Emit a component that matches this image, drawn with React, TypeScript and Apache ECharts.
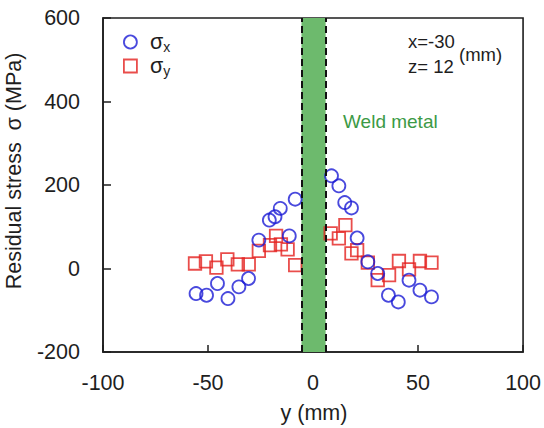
import React, { useEffect, useRef } from "react";
import * as echarts from "echarts";

// σx: positions (mm) and values (MPa)
const sigmaXPos = [-55.7, -50.7, -45.5, -40.5, -35.3, -30.7, -25.8, -20.8, -18.1, -15.6, -11.3, -8.5, 8.8, 12.3, 15.1, 18.3, 21.0, 26.1, 30.8, 35.9, 40.6, 45.7, 50.9, 56.4];
const sigmaX = [-60, -64, -36, -72, -44, -24, 68, 116, 124, 144, 78, 166, 222, 198, 158, 145, 73, 16, -12, -64, -80, -28, -52, -68];

// σy: positions (mm) and values (MPa)
const sigmaYPos = [-56.2, -51.0, -46.0, -40.8, -35.8, -30.6, -25.8, -20.5, -17.6, -15.3, -12.1, -8.5, 8.4, 12.3, 15.4, 18.3, 21.0, 26.1, 30.8, 36.2, 40.9, 45.7, 50.9, 56.4];
const sigmaY = [12, 17, 2, 22, 10, 10, 42, 56, 78, 58, 46, 8, 84, 72, 104, 36, 44, 14, -28, -16, 18, -2, 18, 14];

// weld metal zone (mm)
const weldZone = [-5.5, 6];

const xAxisRange = { min: -100, max: 100, interval: 50 };
const yAxisRange = { min: -200, max: 600, interval: 200 };

const seriesNames = ["σx", "σy"];

export default function App() {
  const ref = useRef<HTMLDivElement>(null);

  useEffect(() => {
    const chart = echarts.init(ref.current!, null, { renderer: "svg" });
    const font = "Arial, 'Liberation Sans', sans-serif";
    const blue = "#1c1cd4";
    const red = "#e3201e";
    const ink = "#1e1e1e";

    chart.setOption({
      animation: false,
      backgroundColor: "#ffffff",
      textStyle: { fontFamily: font },
      grid: {
        left: 103,
        right: 19,
        top: 18,
        bottom: 76,
        show: true,
        borderColor: ink,
        borderWidth: 1.6,
        backgroundColor: "transparent",
      },
      xAxis: {
        type: "value",
        min: xAxisRange.min,
        max: xAxisRange.max,
        interval: xAxisRange.interval,
        axisLine: { show: true, onZero: false, lineStyle: { color: ink, width: 1.6 } },
        axisTick: { show: true, inside: true, length: 7, lineStyle: { color: ink, width: 1.5 } },
        axisLabel: { fontSize: 21.5, color: ink, margin: 20, fontFamily: font },
        splitLine: { show: false },
      },
      yAxis: {
        type: "value",
        min: yAxisRange.min,
        max: yAxisRange.max,
        interval: yAxisRange.interval,
        axisLine: { show: true, onZero: false, lineStyle: { color: ink, width: 1.6 } },
        axisTick: { show: true, inside: true, length: 8, lineStyle: { color: ink, width: 1.5 } },
        axisLabel: { fontSize: 21.5, color: ink, margin: 23, fontFamily: font },
        splitLine: { show: false },
      },
      legend: {
        orient: "vertical",
        left: 118,
        top: 26,
        itemWidth: 13,
        itemHeight: 13,
        itemGap: 1,
        data: [
          { name: seriesNames[0], icon: "circle", itemStyle: { color: "transparent", borderColor: blue, borderWidth: 1.8 } },
          { name: seriesNames[1], icon: "rect", itemStyle: { color: "transparent", borderColor: red, borderWidth: 1.8 } },
        ],
        formatter: (n: string) => (n === seriesNames[0] ? "{s|σ}{b|x}" : "{s|σ}{b|y}"),
        textStyle: {
          rich: {
            s: { fontSize: 21.5, fontFamily: font, color: ink, padding: [0, 0, 0, 8], lineHeight: 24 },
            b: { fontSize: 14, fontFamily: font, color: ink, verticalAlign: "bottom", lineHeight: 16 },
          },
        },
      },
      graphic: [
        {
          type: "text",
          x: 14,
          y: 171,
          rotation: Math.PI / 2,
          style: { text: "Residual stress  σ (MPa)", fontSize: 21.5, fontFamily: font, fill: ink, align: "center", verticalAlign: "middle" },
        },
        {
          type: "text",
          x: 314,
          y: 413,
          style: { text: "y (mm)", fontSize: 21.5, fontFamily: font, fill: ink, align: "center", verticalAlign: "middle" },
        },
        {
          type: "text",
          x: 343,
          y: 121,
          style: { text: "Weld metal", fontSize: 19, fontFamily: font, fill: "#3c9a46", align: "left", verticalAlign: "middle" },
        },
        {
          type: "text",
          x: 408,
          y: 41,
          style: { text: "x=-30", fontSize: 18.5, fontFamily: font, fill: ink, align: "left", verticalAlign: "middle" },
        },
        {
          type: "text",
          x: 408,
          y: 66.5,
          style: { text: "z= 12", fontSize: 18.5, fontFamily: font, fill: ink, align: "left", verticalAlign: "middle" },
        },
        {
          type: "text",
          x: 459,
          y: 54,
          style: { text: "(mm)", fontSize: 18.5, fontFamily: font, fill: ink, align: "left", verticalAlign: "middle" },
        },
      ],
      series: [
        {
          type: "scatter",
          name: seriesNames[0],
          data: sigmaXPos.map((x, i) => [x, sigmaX[i]]),
          symbol: "circle",
          symbolSize: 13,
          itemStyle: { color: "transparent", borderColor: blue, borderWidth: 1.8 },
          z: 4,
          markArea: {
            silent: true,
            itemStyle: { color: "#6dba6d", opacity: 1 },
            data: [[{ xAxis: weldZone[0] }, { xAxis: weldZone[1] }]],
          },
          markLine: {
            silent: true,
            symbol: "none",
            label: { show: false },
            lineStyle: { color: "#111", type: [7, 4], width: 2 },
            data: [{ xAxis: weldZone[0] }, { xAxis: weldZone[1] }],
          },
        },
        {
          type: "scatter",
          name: seriesNames[1],
          data: sigmaYPos.map((x, i) => [x, sigmaY[i]]),
          symbol: "rect",
          symbolSize: 12.5,
          itemStyle: { color: "transparent", borderColor: red, borderWidth: 1.8 },
          z: 3,
        },
      ],
    });

    return () => chart.dispose();
  }, []);

  return <div ref={ref} style={{ position: "absolute", left: 0, top: 0, width: 544, height: 428 }} />;
}
